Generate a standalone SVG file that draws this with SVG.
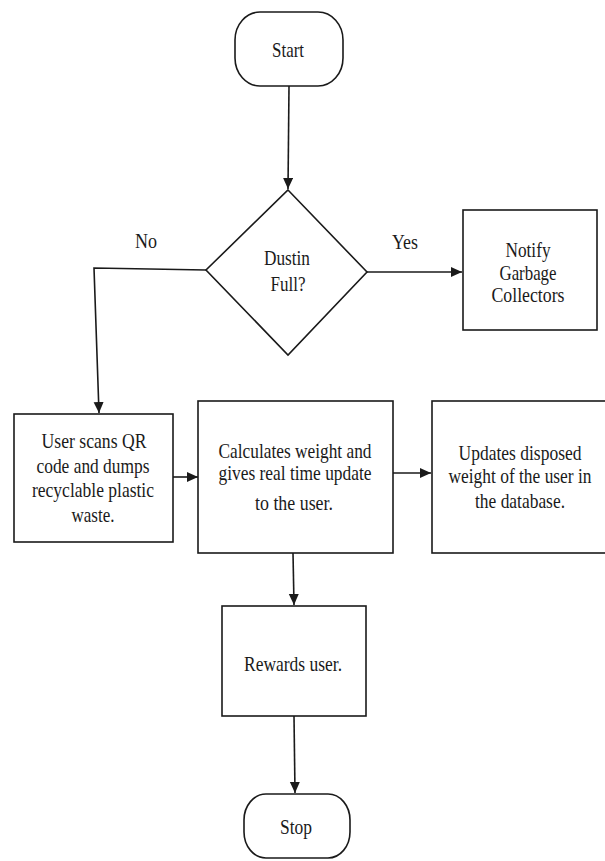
<svg xmlns="http://www.w3.org/2000/svg" width="605" height="861" viewBox="0 0 605 861">
<style>
.shape{fill:#fff;stroke:#1a1a1a;stroke-width:1.6}
.t{font-family:"Liberation Serif","Times New Roman",serif;font-size:21px;fill:#1a1a1a;text-anchor:middle}
.c{fill:none;stroke:#1a1a1a;stroke-width:1.6}
</style>
<defs>
<marker id="arr" markerUnits="userSpaceOnUse" markerWidth="12" markerHeight="12" refX="11" refY="5" orient="auto">
<path d="M0,0 L11,5 L0,10 Z" fill="#1a1a1a"/>
</marker>
</defs>
<rect width="605" height="861" fill="#fff"/>
<g id="connectors">
<path class="c" d="M289,86 L288,189" marker-end="url(#arr)"/>
<path class="c" d="M367,272 L462,272" marker-end="url(#arr)"/>
<path class="c" d="M206,270 L94,268 L99,413" marker-end="url(#arr)"/>
<path class="c" d="M173,477 L198,477" marker-end="url(#arr)"/>
<path class="c" d="M393,473 L431,473" marker-end="url(#arr)"/>
<path class="c" d="M293,553 L294,605" marker-end="url(#arr)"/>
<path class="c" d="M294,716 L295,793" marker-end="url(#arr)"/>
</g>
<g id="start">
<rect class="shape" x="235" y="12" width="108" height="74" rx="25" ry="28"/>
<text class="t" x="288" y="57" textLength="32" lengthAdjust="spacingAndGlyphs">Start</text>
</g>
<g id="decision">
<polygon class="shape" points="288,190 367,272 288,355 206,270"/>
<text class="t" x="287" y="265" textLength="46" lengthAdjust="spacingAndGlyphs">Dustin</text>
<text class="t" x="288" y="291" textLength="35" lengthAdjust="spacingAndGlyphs">Full?</text>
</g>
<g id="label-no"><text class="t" x="146" y="248" textLength="22" lengthAdjust="spacingAndGlyphs">No</text></g>
<g id="label-yes"><text class="t" x="405" y="249" textLength="26" lengthAdjust="spacingAndGlyphs">Yes</text></g>
<g id="notify">
<rect class="shape" x="463" y="210" width="134" height="120"/>
<text class="t" x="528" y="257" textLength="45" lengthAdjust="spacingAndGlyphs">Notify</text>
<text class="t" x="528" y="280" textLength="57" lengthAdjust="spacingAndGlyphs">Garbage</text>
<text class="t" x="528" y="302" textLength="73" lengthAdjust="spacingAndGlyphs">Collectors</text>
</g>
<g id="user-scan">
<rect class="shape" x="14" y="414" width="159" height="128"/>
<text class="t" x="94" y="448" textLength="105" lengthAdjust="spacingAndGlyphs">User scans QR</text>
<text class="t" x="93" y="473" textLength="113" lengthAdjust="spacingAndGlyphs">code and dumps</text>
<text class="t" x="93" y="497" textLength="122" lengthAdjust="spacingAndGlyphs">recyclable plastic</text>
<text class="t" x="93" y="522" textLength="43" lengthAdjust="spacingAndGlyphs">waste.</text>
</g>
<g id="calculate">
<rect class="shape" x="198" y="401" width="195" height="152"/>
<text class="t" x="295" y="458" textLength="153" lengthAdjust="spacingAndGlyphs">Calculates weight and</text>
<text class="t" x="295" y="480" textLength="153" lengthAdjust="spacingAndGlyphs">gives real time update</text>
<text class="t" x="294" y="510" textLength="78" lengthAdjust="spacingAndGlyphs">to the user.</text>
</g>
<g id="update-db">
<rect class="shape" x="432" y="401" width="174" height="152"/>
<text class="t" x="520" y="460" textLength="123" lengthAdjust="spacingAndGlyphs">Updates disposed</text>
<text class="t" x="520" y="483" textLength="143" lengthAdjust="spacingAndGlyphs">weight of the user in</text>
<text class="t" x="520" y="508" textLength="90" lengthAdjust="spacingAndGlyphs">the database.</text>
</g>
<g id="rewards">
<rect class="shape" x="222" y="606" width="144" height="110"/>
<text class="t" x="293" y="671" textLength="98" lengthAdjust="spacingAndGlyphs">Rewards user.</text>
</g>
<g id="stop">
<rect class="shape" x="244" y="794" width="106" height="64" rx="22" ry="26"/>
<text class="t" x="296" y="834" textLength="32" lengthAdjust="spacingAndGlyphs">Stop</text>
</g>
</svg>
